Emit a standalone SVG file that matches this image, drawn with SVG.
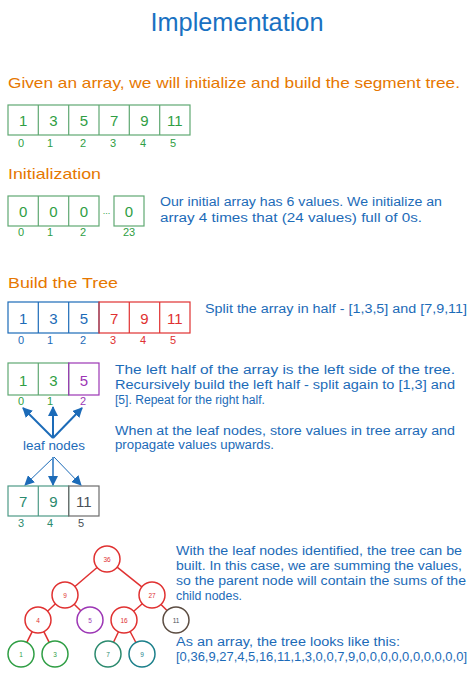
<svg xmlns="http://www.w3.org/2000/svg" width="474" height="676" viewBox="0 0 474 676">
<defs>
<style>
text{font-family:"Liberation Sans","DejaVu Sans",sans-serif}
.title{font-size:25px;fill:#1971c2;text-anchor:middle}
.head{font-size:15px;fill:#e67700}
.desc{font-size:12px;fill:#1c6bb8}
.num{font-size:15px;text-anchor:middle}
.idx{font-size:11px;text-anchor:middle}
.g{fill:#2f9e44}.gs{stroke:#5fa872}
.b{fill:#1c6bb8}.bs{stroke:#1c6bb8}
.r{fill:#e03131}.rs{stroke:#e03131}
.p{fill:#9c36b5}.ps{stroke:#9c36b5}
.t{fill:#2b8a6e}.ts{stroke:#4d9a86}
.k{fill:#495057}.ks{stroke:#6c6c6c}
.box{fill:none;stroke-width:1.2}
.circ{fill:none;stroke-width:1.5}
.clab{font-size:6.5px;text-anchor:middle}
.edge{stroke:#e03131;stroke-width:1.5;fill:none}
.arr{stroke:#1c6bb8;fill:none}
</style>
<marker id="ah" viewBox="0 0 10 10" refX="9" refY="5" markerWidth="5" markerHeight="5" orient="auto" markerUnits="strokeWidth">
<path d="M0,0 L10,5 L0,10 z" fill="#1c6bb8"/>
</marker>
<marker id="ah2" viewBox="0 0 10 10" refX="9" refY="5" markerWidth="10" markerHeight="10" orient="auto" markerUnits="strokeWidth">
<path d="M0,0 L10,5 L0,10 z" fill="#1c6bb8"/>
</marker>
</defs>
<rect width="474" height="676" fill="#ffffff"/>

<text class="title" x="237" y="31" textLength="173" lengthAdjust="spacingAndGlyphs">Implementation</text>
<text class="head" x="8" y="88" textLength="452" lengthAdjust="spacingAndGlyphs">Given an array, we will initialize and build the segment tree.</text>

<g id="array-given">
<rect class="box gs" x="8" y="105" width="182" height="30"/>
<path class="gs" stroke-width="1.2" d="M38.3,105V135M68.7,105V135M99,105V135M129.3,105V135M159.7,105V135"/>
<text class="num g" x="23.2" y="126">1</text>
<text class="num g" x="53.5" y="126">3</text>
<text class="num g" x="83.8" y="126">5</text>
<text class="num g" x="114.2" y="126">7</text>
<text class="num g" x="144.5" y="126">9</text>
<text class="num g" x="174.8" y="126">11</text>
<text class="idx g" x="21" y="147">0</text>
<text class="idx g" x="50" y="147">1</text>
<text class="idx g" x="83" y="147">2</text>
<text class="idx g" x="113" y="147">3</text>
<text class="idx g" x="143" y="147">4</text>
<text class="idx g" x="173" y="147">5</text>
</g>

<text class="head" x="8" y="179" textLength="93" lengthAdjust="spacingAndGlyphs">Initialization</text>
<g id="array-init">
<rect class="box gs" x="8" y="196" width="91" height="30"/>
<path class="gs" stroke-width="1.2" d="M38.3,196V226M68.7,196V226"/>
<rect class="box gs" x="114" y="196" width="30" height="30"/>
<text class="num g" x="23.2" y="217">0</text>
<text class="num g" x="53.5" y="217">0</text>
<text class="num g" x="83.8" y="217">0</text>
<text class="num g" x="106.5" y="214" style="font-size:9px">...</text>
<text class="num g" x="129" y="217">0</text>
<text class="idx g" x="21" y="236">0</text>
<text class="idx g" x="50" y="236">1</text>
<text class="idx g" x="83" y="236">2</text>
<text class="idx g" x="129" y="236">23</text>
</g>
<text class="desc" x="160" y="206" textLength="282" lengthAdjust="spacingAndGlyphs">Our initial array has 6 values. We initialize an</text>
<text class="desc" x="160" y="222" textLength="262" lengthAdjust="spacingAndGlyphs">array 4 times that (24 values) full of 0s.</text>

<text class="head" x="8" y="288" textLength="110" lengthAdjust="spacingAndGlyphs">Build the Tree</text>
<g id="array-split">
<rect class="box bs" x="8" y="302" width="91" height="31"/>
<path class="bs" stroke-width="1.2" d="M38.3,302V333M68.7,302V333"/>
<rect class="box rs" x="99" y="302" width="91" height="31"/>
<path class="rs" stroke-width="1.2" d="M129.3,302V333M159.7,302V333"/>
<text class="num b" x="23.2" y="324">1</text>
<text class="num b" x="53.5" y="324">3</text>
<text class="num b" x="83.8" y="324">5</text>
<text class="num r" x="114.2" y="324">7</text>
<text class="num r" x="144.5" y="324">9</text>
<text class="num r" x="174.8" y="324">11</text>
<text class="idx b" x="21" y="344">0</text>
<text class="idx b" x="50" y="344">1</text>
<text class="idx b" x="83" y="344">2</text>
<text class="idx r" x="113" y="344">3</text>
<text class="idx r" x="143" y="344">4</text>
<text class="idx r" x="173" y="344">5</text>
</g>
<text class="desc" x="205" y="313" textLength="262" lengthAdjust="spacingAndGlyphs">Split the array in half - [1,3,5] and [7,9,11]</text>

<g id="array-left">
<rect class="box gs" x="8" y="363" width="60.7" height="32"/>
<path class="gs" stroke-width="1.2" d="M38.3,363V395"/>
<rect class="box ps" x="68.7" y="363" width="30.3" height="32"/>
<text class="num g" x="23.2" y="386">1</text>
<text class="num g" x="53.5" y="386">3</text>
<text class="num p" x="83.8" y="386">5</text>
<text class="idx g" x="21" y="405">0</text>
<text class="idx g" x="50" y="405">1</text>
<text class="idx p" x="83" y="405">2</text>
</g>
<text class="desc" x="115" y="374" textLength="340" lengthAdjust="spacingAndGlyphs">The left half of the array is the left side of the tree.</text>
<text class="desc" x="115" y="389" textLength="340" lengthAdjust="spacingAndGlyphs">Recursively build the left half - split again to [1,3] and</text>
<text class="desc" x="115" y="404" textLength="150" lengthAdjust="spacingAndGlyphs">[5]. Repeat for the right half.</text>
<text class="desc" x="115" y="435" textLength="340" lengthAdjust="spacingAndGlyphs">When at the leaf nodes, store values in tree array and</text>
<text class="desc" x="115" y="449" textLength="159" lengthAdjust="spacingAndGlyphs">propagate values upwards.</text>

<g id="leaf-nodes">
<text class="desc" x="23" y="450" textLength="62" lengthAdjust="spacingAndGlyphs">leaf nodes</text>
</g>

<g id="array-right">
<rect class="box ts" x="8" y="486" width="60.7" height="30"/>
<path class="ts" stroke-width="1.2" d="M38.3,486V516"/>
<rect class="box ks" x="68.7" y="486" width="30.3" height="30"/>
<text class="num t" x="23.2" y="507">7</text>
<text class="num t" x="53.5" y="507">9</text>
<text class="num k" x="83.8" y="507">11</text>
<text class="idx t" x="21" y="527">3</text>
<text class="idx t" x="50" y="527">4</text>
<text class="idx k" x="81" y="527">5</text>
</g>

<g id="connectors">
<path class="arr" stroke-width="2" marker-end="url(#ah)" d="M53,438L23,408"/>
<path class="arr" stroke-width="2" marker-end="url(#ah)" d="M53,438L53,407"/>
<path class="arr" stroke-width="2" marker-end="url(#ah)" d="M53,438L82,408"/>
<path class="arr" stroke-width="1" marker-end="url(#ah2)" d="M54,457L25,485"/>
<path class="arr" stroke-width="2" marker-end="url(#ah)" d="M53,457L53,485" style="stroke:#5a95cf"/>
<path class="arr" stroke-width="1" marker-end="url(#ah2)" d="M54,457L81,485"/>
<path class="edge" d="M97.1,567.5L74.9,586.5"/>
<path class="edge" d="M117.1,567.1L141.8,586.9"/>
<path class="edge" d="M55.5,603.8L47.5,611.2"/>
<path class="edge" d="M74.2,604.2L80.8,610.8"/>
<path class="edge" d="M142.3,603.7L133.7,611.3"/>
<path class="edge" d="M161,604.4L167,610.6"/>
<path class="edge" d="M32.2,631.6L26.8,642.4"/>
<path class="edge" d="M43.8,631.6L49.2,642.4"/>
<path class="edge" d="M118.5,631.8L113.5,642.2"/>
<path class="edge" d="M130.1,631.5L135.9,642.5"/>
</g>

<g id="node-36"><circle class="circ rs" cx="107" cy="559" r="13"/><text class="clab r" x="107" y="561.5">36</text></g>
<g id="node-9a"><circle class="circ rs" cx="65" cy="595" r="13"/><text class="clab r" x="65" y="597.5">9</text></g>
<g id="node-27"><circle class="circ rs" cx="152" cy="595" r="13"/><text class="clab r" x="152" y="597.5">27</text></g>
<g id="node-4"><circle class="circ rs" cx="38" cy="620" r="13"/><text class="clab r" x="38" y="622.5">4</text></g>
<g id="node-5"><circle class="circ ps" cx="90" cy="620" r="13"/><text class="clab p" x="90" y="622.5">5</text></g>
<g id="node-16"><circle class="circ rs" cx="124" cy="620" r="13"/><text class="clab r" x="124" y="622.5">16</text></g>
<g id="node-11"><circle class="circ" stroke="#5c4d42" cx="176" cy="620" r="13"/><text class="clab k" x="176" y="622.5">11</text></g>
<g id="node-1"><circle class="circ" stroke="#2f9e44" cx="21" cy="654" r="13"/><text class="clab g" x="21" y="656.5">1</text></g>
<g id="node-3"><circle class="circ" stroke="#2f9e44" cx="55" cy="654" r="13"/><text class="clab g" x="55" y="656.5">3</text></g>
<g id="node-7"><circle class="circ" stroke="#2b8a6e" cx="108" cy="654" r="13"/><text class="clab t" x="108" y="656.5">7</text></g>
<g id="node-9b"><circle class="circ" stroke="#1b7f8a" cx="142" cy="654" r="13"/><text class="clab" fill="#1b7f8a" x="142" y="656.5">9</text></g>

<text class="desc" x="176" y="555" textLength="286" lengthAdjust="spacingAndGlyphs">With the leaf nodes identified, the tree can be</text>
<text class="desc" x="176" y="570" textLength="286" lengthAdjust="spacingAndGlyphs">built. In this case, we are summing the values,</text>
<text class="desc" x="176" y="585" textLength="290" lengthAdjust="spacingAndGlyphs">so the parent node will contain the sums of the</text>
<text class="desc" x="176" y="600" textLength="66" lengthAdjust="spacingAndGlyphs">child nodes.</text>
<text class="desc" x="176" y="646" textLength="224" lengthAdjust="spacingAndGlyphs">As an array, the tree looks like this:</text>
<text class="desc" x="176" y="661" textLength="291" lengthAdjust="spacingAndGlyphs">[0,36,9,27,4,5,16,11,1,3,0,0,7,9,0,0,0,0,0,0,0,0,0,0]</text>
</svg>
